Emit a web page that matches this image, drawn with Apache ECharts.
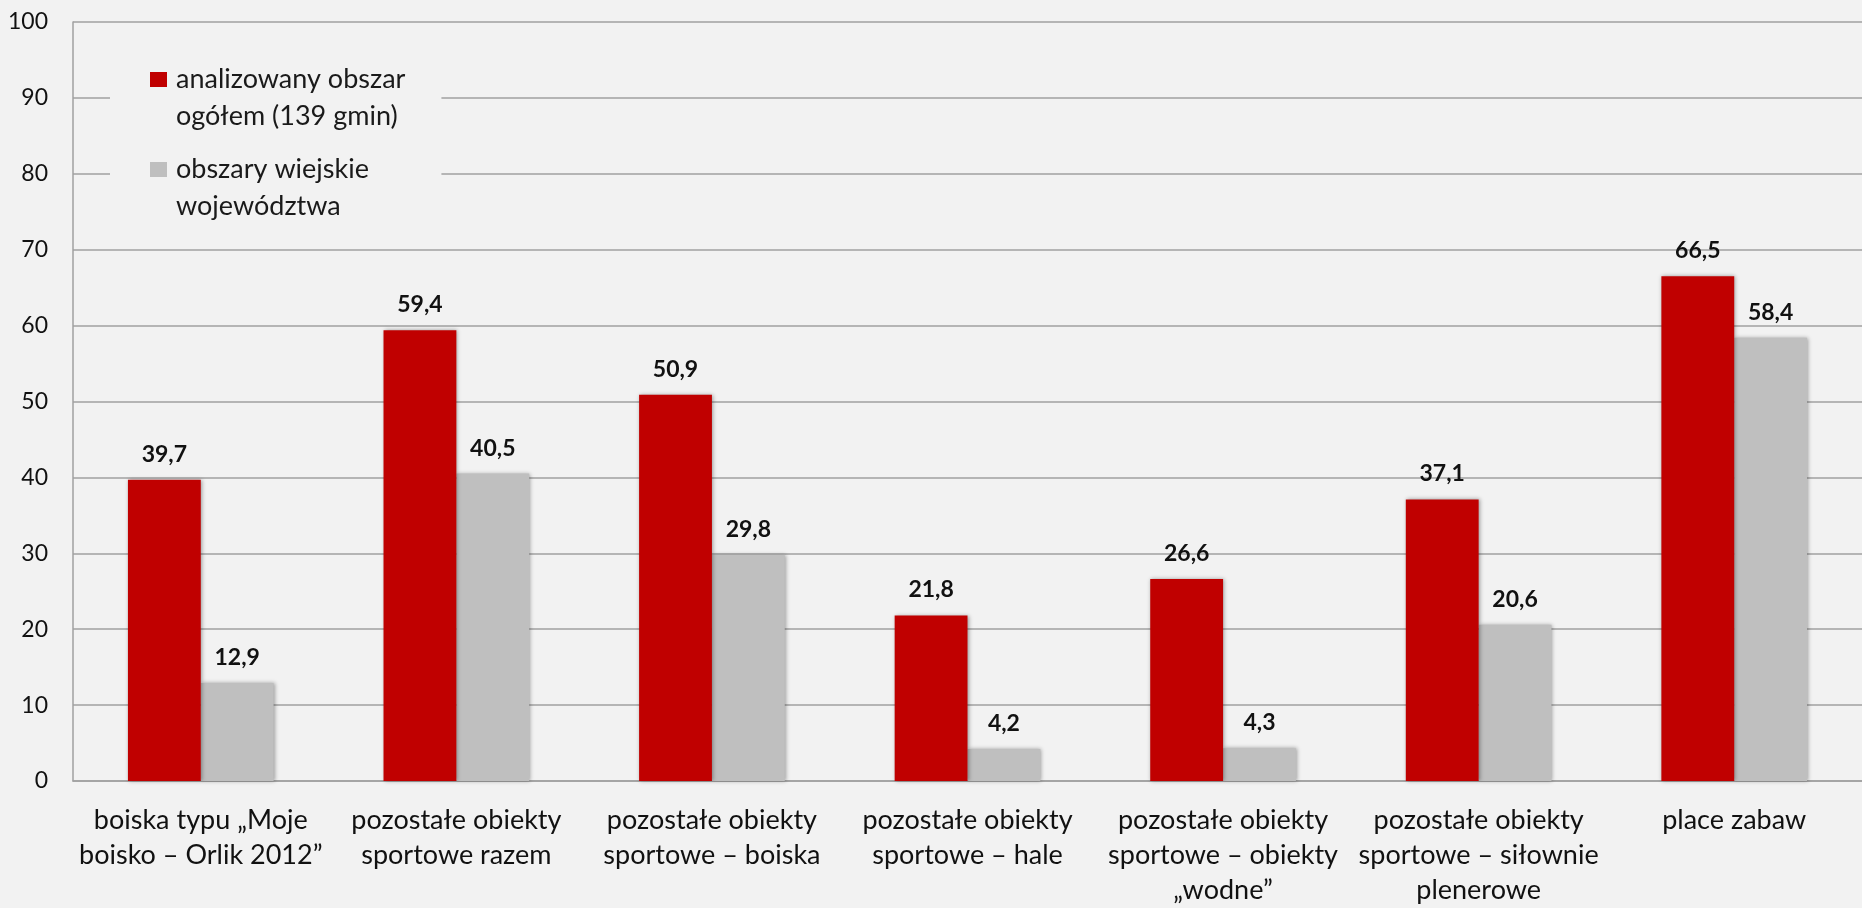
<!DOCTYPE html>
<html><head><meta charset="utf-8">
<script src="https://cdn.jsdelivr.net/npm/echarts@6/dist/echarts.min.js"></script>
<style>html,body{margin:0;padding:0;background:#f2f2f2;}#c{width:1862px;height:908px;}</style>
</head><body><div id="c"></div>
<script>
var categories = [
  'boiska typu „Moje\nboisko – Orlik 2012”',
  'pozostałe obiekty\nsportowe razem',
  'pozostałe obiekty\nsportowe – boiska',
  'pozostałe obiekty\nsportowe – hale',
  'pozostałe obiekty\nsportowe – obiekty\n„wodne”',
  'pozostałe obiekty\nsportowe – siłownie\nplenerowe',
  'place zabaw'
];
var seriesNames = ['analizowany obszar\nogółem (139 gmin)', 'obszary wiejskie\nwojewództwa'];
var analizowany = [39.7, 59.4, 50.9, 21.8, 26.6, 37.1, 66.5];
var wiejskie = [12.9, 40.5, 29.8, 4.2, 4.3, 20.6, 58.4];
var yTicks = [0, 10, 20, 30, 40, 50, 60, 70, 80, 90, 100];

var FONT = 'Lato';
function iconPath() {
  return 'path://M0,0L0.01,0L0,0.01Z M0,11L17,11L17,26L0,26Z M0,74L0.01,74L0,73.99Z';
}
var lbl = {
  show: true, position: 'top', distance: 14,
  fontFamily: FONT, fontWeight: 'bold', fontSize: 23, color: '#111',
  formatter: function (p) { return String(p.value.toFixed(1)).replace('.', ','); }
};
var chart = echarts.init(document.getElementById('c'));
chart.setOption({
  backgroundColor: '#f2f2f2',
  animation: false,
  legend: {
    orient: 'vertical', left: 110, top: 41,
    padding: [20, 36, 20, 40],
    backgroundColor: '#f2f2f2',
    itemWidth: 17, itemHeight: 74, itemGap: 16,
    symbolKeepAspect: false,
    textStyle: { fontFamily: FONT, fontSize: 27, color: '#1a1a1a', lineHeight: 37, padding: [0, 0, 0, 4] },
    data: [
      { name: seriesNames[0], icon: iconPath() },
      { name: seriesNames[1], icon: iconPath() }
    ]
  },
  grid: { left: 73, right: 0, top: 22, bottom: 124, containLabel: false },
  xAxis: {
    type: 'category', data: categories,
    axisLine: { lineStyle: { color: '#a0a0a0', width: 1.5 } },
    axisTick: { show: false },
    axisLabel: { fontFamily: FONT, fontSize: 27, color: '#111', lineHeight: 35, margin: 22, interval: 0 }
  },
  yAxis: {
    type: 'value', min: yTicks[0], max: yTicks[yTicks.length - 1], interval: 10,
    axisLine: { show: true, lineStyle: { color: '#a0a0a0', width: 1.5 } },
    axisTick: { show: false },
    axisLabel: { fontFamily: FONT, fontSize: 23, color: '#111', margin: 25 },
    splitLine: { lineStyle: { color: '#a0a0a0', width: 1.5 } }
  },
  series: [
    {
      name: seriesNames[0], type: 'bar', data: analizowany,
      barGap: '0%', barCategoryGap: '43%',
      itemStyle: { color: '#c00000', shadowBlur: 4, shadowColor: 'rgba(0,0,0,0.35)', shadowOffsetX: 1, shadowOffsetY: 0 },
      label: lbl, z: 3
    },
    {
      name: seriesNames[1], type: 'bar', data: wiejskie,
      barGap: '0%', barCategoryGap: '43%',
      itemStyle: { color: '#bfbfbf', shadowBlur: 4, shadowColor: 'rgba(0,0,0,0.35)', shadowOffsetX: 1, shadowOffsetY: 0 },
      label: lbl, z: 2
    }
  ]
});
</script></body></html>
